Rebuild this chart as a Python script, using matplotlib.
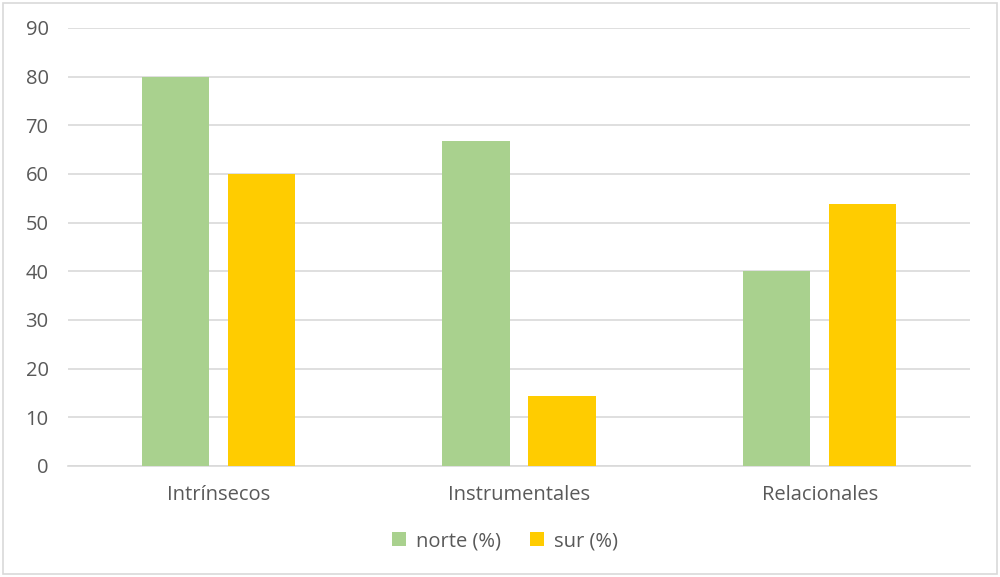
import matplotlib
matplotlib.use("Agg")
import matplotlib.pyplot as plt
from matplotlib.patches import Rectangle
import numpy as np

plt.rcParams['font.family'] = ['Open Sans', 'DejaVu Sans']

categories = ["Intrínsecos", "Instrumentales", "Relacionales"]
norte = [80.0, 66.7, 40.0]
sur = [60.0, 14.3, 53.8]
series_names = ["norte (%)", "sur (%)"]
colors = ["#A9D18E", "#FFCC00"]
yticks = [0, 10, 20, 30, 40, 50, 60, 70, 80, 90]

fig = plt.figure(figsize=(10, 5.77), dpi=100)
fig.patches.append(Rectangle((0.003, 0.005), 0.994, 0.99, transform=fig.transFigure,
                             fill=False, edgecolor="#D9D9D9", linewidth=1.2))
ax = fig.add_axes([0.068, 0.1924, 0.902, 0.7591])

x = np.arange(len(categories))
w = 0.223
gap = 0.063
ax.bar(x - (w + gap) / 2, norte, w, color=colors[0], label=series_names[0], zorder=3)
ax.bar(x + (w + gap) / 2, sur, w, color=colors[1], label=series_names[1], zorder=3)

ax.set_xlim(-0.5, 2.5)
ax.set_ylim(0, 90)
ax.set_yticks(yticks)
ax.set_xticks(x)
ax.set_xticklabels(categories)
ax.yaxis.grid(True, color="#D9D9D9", linewidth=1.2, zorder=0)
for s in ["top", "right", "left"]:
    ax.spines[s].set_visible(False)
ax.spines["bottom"].set_color("#D9D9D9")
ax.spines["bottom"].set_linewidth(1.2)
ax.tick_params(axis="both", length=0, labelsize=14.5, colors="#595959")
ax.tick_params(axis="x", pad=14)
ax.tick_params(axis="y", pad=14)

leg = fig.legend(loc="center", bbox_to_anchor=(0.505, 0.062), ncol=2, frameon=False,
                 fontsize=14.5, handlelength=0.7, handleheight=0.7, handletextpad=0.5,
                 columnspacing=1.4)
for t in leg.get_texts():
    t.set_color("#595959")

fig.savefig("out.png", dpi=100)
